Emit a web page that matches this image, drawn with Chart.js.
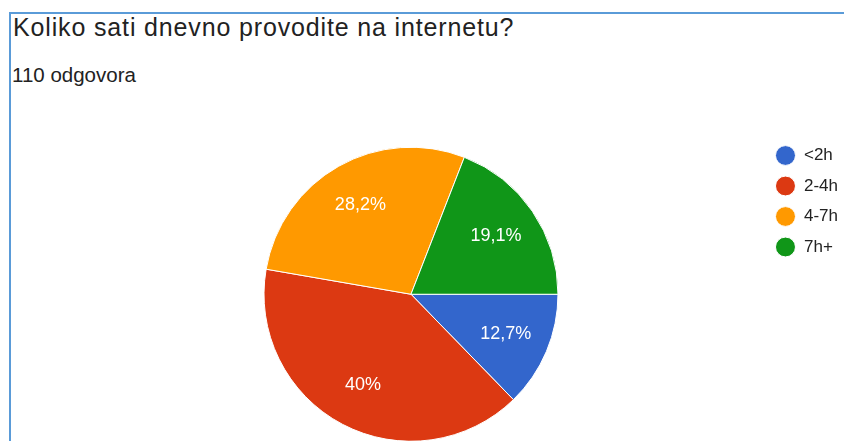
<!DOCTYPE html>
<html>
<head>
<meta charset="utf-8">
<script src="https://cdn.jsdelivr.net/npm/chart.js@4/dist/chart.umd.min.js"></script>
<style>
  html, body { margin: 0; padding: 0; background: #fff; overflow: hidden; }
  body { width: 844px; height: 441px; position: relative; font-family: 'Liberation Sans', Arial, sans-serif; color: #222; }
  #frame { position: absolute; left: 9px; top: 12px; right: 0; bottom: 0; border-left: 2px solid #5a9bd8; border-top: 2px solid #5a9bd8; }
  #title { position: absolute; left: 13px; top: 15px; font-size: 25px; line-height: 25px; letter-spacing: 0.85px; white-space: nowrap; }
  #subtitle { position: absolute; left: 12px; top: 65px; font-size: 20.5px; line-height: 20px; white-space: nowrap; }
  #wrap { position: absolute; left: 0; top: 0; width: 848px; height: 455px; }
</style>
</head>
<body>
<div id="frame"></div>
<div id="title">Koliko sati dnevno provodite na internetu?</div>
<div id="subtitle">110 odgovora</div>
<div id="wrap"><canvas id="pie"></canvas></div>
<script>
// podaci s grafikona (110 odgovora)
const categories = ['<2h', '2-4h', '4-7h', '7h+'];
const responses = [14, 44, 31, 21];
const sliceColors = ['#3366cc', '#dc3912', '#ff9900', '#109618'];

function percentText(value, total) {
    let txt = (value / total * 100).toFixed(1).replace('.', ',');
    if (txt.endsWith(',0')) txt = txt.slice(0, -2);
    return txt + '%';
}

// postoci unutar isječaka
const sliceLabels = {
    id: 'sliceLabels',
    afterDatasetsDraw(chart) {
        const ctx = chart.ctx;
        const meta = chart.getDatasetMeta(0);
        const data = chart.data.datasets[0].data;
        const total = data.reduce((a, b) => a + b, 0);
        ctx.save();
        ctx.fillStyle = '#ffffff';
        ctx.font = "18px 'Liberation Sans', Arial, sans-serif";
        ctx.textAlign = 'center';
        ctx.textBaseline = 'middle';
        meta.data.forEach((arc, i) => {
            const p = arc.getProps(['x', 'y', 'startAngle', 'endAngle', 'outerRadius'], true);
            const mid = (p.startAngle + p.endAngle) / 2;
            const r = p.outerRadius * 0.7;
            ctx.fillText(percentText(data[i], total), p.x + Math.cos(mid) * r, p.y + Math.sin(mid) * r);
        });
        ctx.restore();
    }
};

Chart.defaults.font.family = "'Liberation Sans', Arial, sans-serif";

new Chart(document.getElementById('pie'), {
    type: 'pie',
    data: {
        labels: categories,
        datasets: [{
            data: responses,
            backgroundColor: sliceColors,
            borderColor: '#ffffff',
            borderWidth: 1,
            radius: 147
        }]
    },
    options: {
        responsive: true,
        maintainAspectRatio: false,
        animation: false,
        rotation: 90,
        layout: {
            padding: { left: 60, top: 133.5, right: 0, bottom: 0 }
        },
        plugins: {
            tooltip: { enabled: false },
            legend: {
                position: 'right',
                align: 'start',
                labels: {
                    usePointStyle: true,
                    pointStyle: 'circle',
                    boxHeight: 14,
                    pointStyleWidth: 20,
                    padding: 13.5,
                    color: '#222',
                    font: { size: 17 }
                }
            }
        }
    },
    plugins: [sliceLabels]
});
</script>
</body>
</html>
